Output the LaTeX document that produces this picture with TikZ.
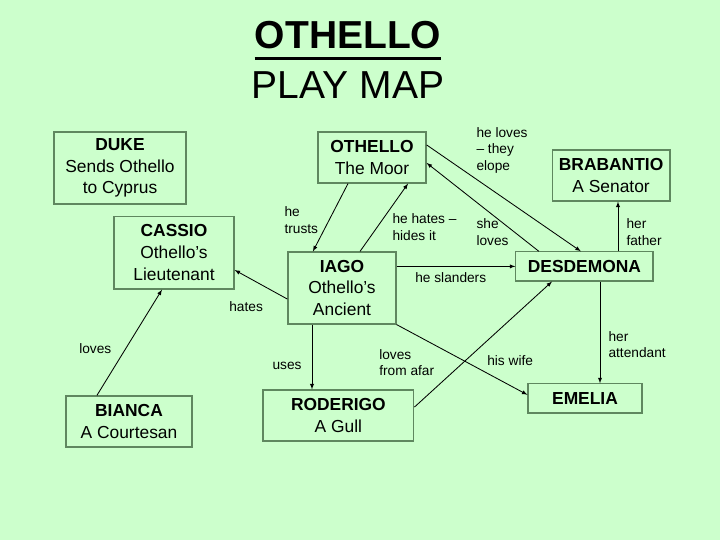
\documentclass[tikz,border=0pt]{standalone}
\usepackage{fontspec}
\setmainfont{Liberation Sans}
\definecolor{bggreen}{RGB}{204,255,204}
\definecolor{boxline}{RGB}{95,135,95}
\tikzset{
	box/.style={draw=boxline, line width=1.1pt, align=center, inner sep=0pt, font=\fontsize{16.5}{20.6}\selectfont},
	lbl/.style={anchor=north west, align=left, inner sep=0pt, font=\fontsize{13}{15.8}\selectfont},
	arr/.style={line width=0.8pt, ->, >=latex}
}
\begin{document}
\begin{tikzpicture}
	\fill[bggreen] (0,0) rectangle (24,18);%Hintergrund
	\useasboundingbox (0,0) rectangle (24,18);
	
	%Titel
	\node[inner sep=0pt, anchor=base, font=\fontsize{37}{40}\selectfont\bfseries] (title) at (11.6, 16.39) {OTHELLO};
	\draw[line width=3.2pt] ([yshift=-0.33cm]title.base west) -- ([yshift=-0.33cm]title.base east);
	\node[inner sep=0pt, anchor=base, font=\fontsize{37}{40}\selectfont] (subtitle) at (11.6, 14.72) {PLAY MAP};
	
	%Personen
	\node[box, minimum width=4.4cm, minimum height=2.4cm] (duke) at (4.0, 12.4) {\textbf{DUKE}\\Sends Othello\\to Cyprus};
	\node[box, minimum width=3.6cm, minimum height=1.7cm] (othello) at (12.4, 12.75) {\textbf{OTHELLO}\\The Moor};
	\node[box, minimum width=3.93cm, minimum height=1.7cm] (brabantio) at (20.37, 12.15) {\textbf{BRABANTIO}\\A Senator};
	\node[box, minimum width=4.0cm, minimum height=2.43cm] (cassio) at (5.8, 9.58) {\textbf{CASSIO}\\Othello’s\\Lieutenant};
	\node[box, minimum width=3.6cm, minimum height=2.4cm] (iago) at (11.4, 8.4) {\textbf{IAGO}\\Othello’s\\Ancient};
	\node[box, minimum width=4.57cm, minimum height=0.97cm] (desdemona) at (19.48, 9.12) {\textbf{DESDEMONA}};
	\node[box, minimum width=3.8cm, minimum height=0.97cm] (emelia) at (19.5, 4.72) {\textbf{EMELIA}};
	\node[box, minimum width=5.03cm, minimum height=1.7cm] (roderigo) at (11.28, 4.15) {\textbf{RODERIGO}\\A Gull};
	\node[box, minimum width=4.2cm, minimum height=1.7cm] (bianca) at (4.3, 3.95) {\textbf{BIANCA}\\A Courtesan};
	
	%Beziehungen
	\draw[arr] ([xshift=-0.8cm]othello.south) -- ([xshift=-0.97cm]iago.north) node[lbl] at (9.47, 11.13) {he\\trusts};
	\draw[arr] ([xshift=0.6cm]iago.north) -- ([xshift=1.2cm]othello.south) node[lbl] at (13.07, 10.9) {he hates –\\hides it};
	\draw[arr] ([yshift=0.42cm]othello.east) -- ([xshift=-0.12cm]desdemona.north) node[lbl] at (15.87, 13.77) {he loves\\– they\\elope};
	\draw[arr] ([xshift=-1.52cm]desdemona.north) -- ([yshift=-0.18cm]othello.east) node[lbl] at (15.87, 10.73) {she\\loves};
	\draw[arr] ([xshift=1.12cm]desdemona.north) -- ([xshift=1.12cm]desdemona.north |- brabantio.south) node[lbl] at (20.87, 10.73) {her\\father};
	\draw[arr] (iago.east |- desdemona.west) -- (desdemona.west) node[lbl] at (13.83, 8.93) {he slanders};
	\draw[arr] ([yshift=-0.37cm]iago.west) -- ([yshift=-0.58cm]cassio.east) node[lbl] at (7.63, 7.97) {hates};
	\draw[arr] ([xshift=-1.07cm]bianca.north) -- ([xshift=-0.4cm]cassio.south) node[lbl] at (2.63, 6.57) {loves};
	\draw[arr] ([xshift=-1cm]iago.south) -- ([xshift=-1cm]iago.south |- roderigo.north) node[lbl] at (9.07, 5.93) {uses};
	\draw[arr] ([yshift=0.28cm]roderigo.east) -- ([xshift=-1.08cm]desdemona.south) node[lbl] at (12.63, 6.37) {loves\\from afar};
	\draw[arr] (iago.south east) -- ([yshift=0.12cm]emelia.west) node[lbl] at (16.23, 6.17) {his wife};
	\draw[arr] ([xshift=0.52cm]desdemona.south) -- ([xshift=0.52cm]desdemona.south |- emelia.north) node[lbl] at (20.27, 6.97) {her\\attendant};
	
\end{tikzpicture}
\end{document}
